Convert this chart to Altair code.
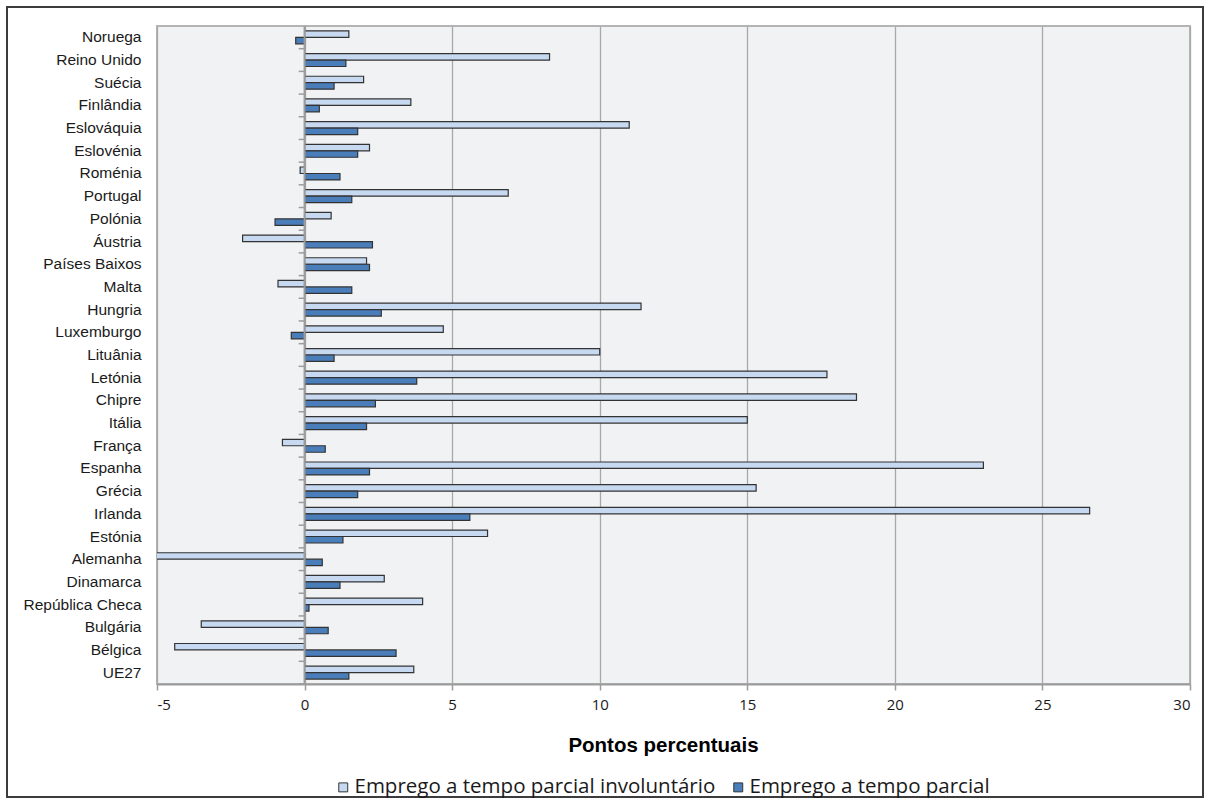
import altair as alt
import pandas as pd

# Countries listed top to bottom as they appear on the category axis
countries = [
    "Noruega", "Reino Unido", "Suécia", "Finlândia", "Eslováquia", "Eslovénia",
    "Roménia", "Portugal", "Polónia", "Áustria", "Países Baixos", "Malta",
    "Hungria", "Luxemburgo", "Lituânia", "Letónia", "Chipre", "Itália",
    "França", "Espanha", "Grécia", "Irlanda", "Estónia", "Alemanha",
    "Dinamarca", "República Checa", "Bulgária", "Bélgica", "UE27",
]
# Change in percentage points
involuntary = [
    1.5, 8.3, 2.0, 3.6, 11.0, 2.2,
    -0.15, 6.9, 0.9, -2.1, 2.1, -0.9,
    11.4, 4.7, 10.0, 17.7, 18.7, 15.0,
    -0.75, 23.0, 15.3, 26.6, 6.2, -5.3,
    2.7, 4.0, -3.5, -4.4, 3.7,
]
part_time = [
    -0.3, 1.4, 1.0, 0.5, 1.8, 1.8,
    1.2, 1.6, -1.0, 2.3, 2.2, 1.6,
    2.6, -0.45, 1.0, 3.8, 2.4, 2.1,
    0.7, 2.2, 1.8, 5.6, 1.3, 0.6,
    1.2, 0.15, 0.8, 3.1, 1.5,
]
series_names = ["Emprego a tempo parcial involuntário", "Emprego a tempo parcial"]
series_colors = ["#C6D9F1", "#4A7EBB"]
x_ticks = [-5, 0, 5, 10, 15, 20, 25, 30]

rows = []
for country, a, b in zip(countries, involuntary, part_time):
    rows.append({"pais": country, "serie": series_names[0], "valor": a})
    rows.append({"pais": country, "serie": series_names[1], "valor": b})
df = pd.DataFrame(rows)

PLOT_W, PLOT_H = 1033, 658
PAD_INNER, PAD_OUTER = 0.43, 0.215

axis_grey = "#9c9c9c"
arial = "Liberation Sans, Arial"
sans = "Open Sans, Noto Sans, DejaVu Sans"

x_scale = alt.Scale(domain=[-5, 30], nice=False, zero=False)

bars = alt.Chart(df).mark_bar(stroke="#333333", strokeWidth=1.2, clip=True).encode(
    x=alt.X(
        "valor:Q",
        scale=x_scale,
        axis=alt.Axis(
            values=x_ticks,
            labelExpr="'' + datum.value",
            labelFont=sans,
            labelFontSize=15,
            labelColor="#1a1a1a",
            labelPadding=7,
            tickSize=6,
            tickColor=axis_grey,
            tickWidth=1.5,
            domainColor=axis_grey,
            domainWidth=2,
            gridColor="#a8a8a8",
            gridWidth=1.3,
            title="Pontos percentuais",
            titleFont=arial,
            titleFontSize=20.5,
            titleFontWeight="bold",
            titleColor="#000000",
            titleX=506,
            titleY=61,
            titleAlign="center",
            titleBaseline="middle",
        ),
    ),
    x2=alt.datum(0),
    y=alt.Y(
        "pais:N",
        sort=countries,
        scale=alt.Scale(paddingInner=PAD_INNER, paddingOuter=PAD_OUTER),
        axis=alt.Axis(
            title=None,
            domain=False,
            ticks=False,
            grid=False,
            labelFont=arial,
            labelFontSize=15.5,
            labelColor="#1a1a1a",
            labelPadding=16,
        ),
    ),
    yOffset=alt.YOffset("serie:N", sort=series_names),
    color=alt.Color(
        "serie:N",
        scale=alt.Scale(domain=series_names, range=series_colors),
        legend=alt.Legend(
            title=None,
            orient="none",
            legendX=176,
            legendY=751,
            direction="horizontal",
            symbolType="square",
            symbolSize=80,
            symbolStrokeColor="#333333",
            symbolStrokeWidth=1,
            labelFont=sans,
            labelFontSize=20.5,
            labelColor="#1a1a1a",
            labelOffset=1,
            labelLimit=0,
            columnPadding=12,
        ),
    ),
)

# small category tick marks hanging off the zero line, at the lower edge of each step
cat_ticks = alt.Chart(pd.DataFrame({"pais": countries})).mark_rule(
    color=axis_grey, strokeWidth=1.5
).encode(
    y=alt.Y(
        "pais:N",
        sort=countries,
        bandPosition=1,
        scale=alt.Scale(paddingInner=0, paddingOuter=0),
        axis=None,
    ),
    x=alt.datum(-0.2),
    x2=alt.datum(0),
)

zero_line = alt.Chart(pd.DataFrame({"z": [0]})).mark_rule(
    color=axis_grey, strokeWidth=2
).encode(x=alt.datum(0))

# frame around the whole figure
frame = alt.Chart(pd.DataFrame({"f": [0]})).mark_rect(
    fillOpacity=0, stroke="#3c3c3c", strokeWidth=2, clip=False
).encode(
    x=alt.value(-150), x2=alt.value(1046), y=alt.value(-19), y2=alt.value(771)
)

chart = alt.layer(frame, bars, cat_ticks, zero_line).resolve_scale(
    y="independent"
).properties(
    width=PLOT_W,
    height=PLOT_H,
    padding={"left": 157, "top": 26, "right": 20, "bottom": 121},
    autosize=alt.AutoSizeParams(type="none"),
    background="white",
).configure_view(stroke="#b4b4b4", strokeWidth=2, fill="#F1F2F4")

chart.save("out.html", embed_options={"renderer": "svg", "actions": False})
